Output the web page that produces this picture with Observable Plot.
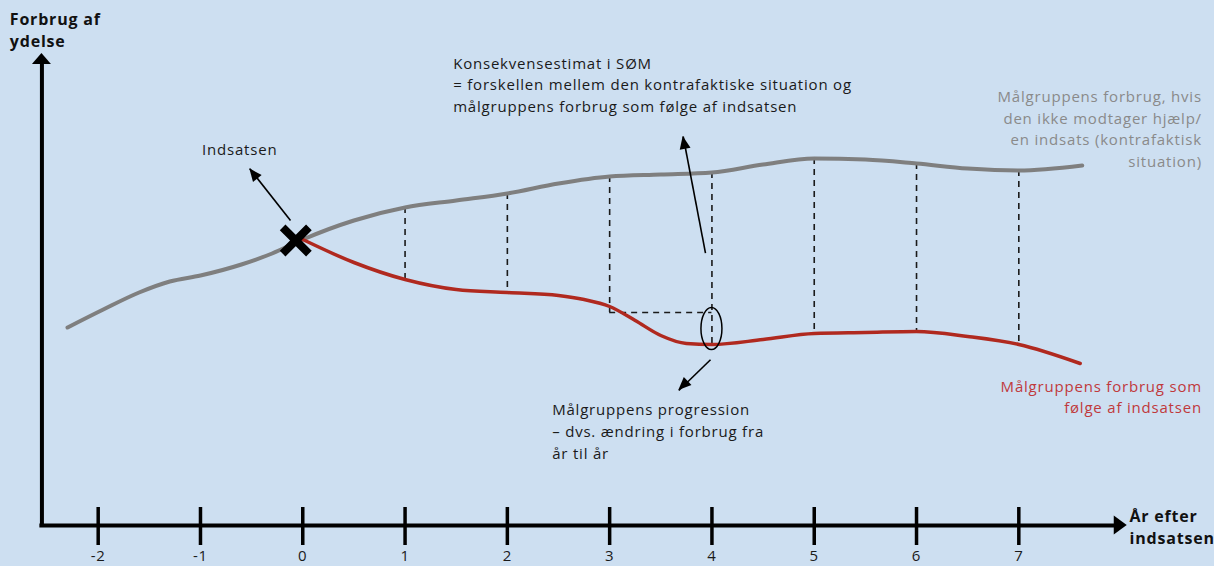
<!DOCTYPE html>
<html><head><meta charset="utf-8">
<script src="https://cdn.jsdelivr.net/npm/d3@7"></script>
<script src="https://cdn.jsdelivr.net/npm/@observablehq/plot@0.6"></script>
<style>
html,body{margin:0;padding:0;background:#cddff1;}
#chart svg{display:block}
#chart svg text{letter-spacing:0.8px}
#chart svg text.bold{letter-spacing:0.7px}
</style>
</head><body><div id="chart"></div>
<script>
// ---- data ----
const years = [-2, -1, 0, 1, 2, 3, 4, 5, 6, 7];
const yearLabels = ["-2", "-1", "0", "1", "2", "3", "4", "5", "6", "7"];

// counterfactual (gray) consumption
const grayX = [-2.30, -1.95, -1.6, -1.3, -1, -0.6, -0.3, 0, 0.5, 1, 1.5, 2, 2.5, 3, 3.5, 4, 4.5, 5, 5.5, 6, 6.5, 7, 7.62];
const grayY = [19.8, 21.6, 23.3, 24.4, 25.0, 26.1, 27.2, 28.6, 30.5, 31.8, 32.5, 33.2, 34.2, 34.9, 35.1, 35.3, 36.1, 36.7, 36.6, 36.2, 35.7, 35.5, 36.0];

// consumption with intervention (red)
const redX = [0, 0.5, 1, 1.5, 2, 2.5, 2.75, 3, 3.25, 3.5, 3.75, 4, 4.5, 5, 5.5, 6, 6.5, 7, 7.6];
const redY = [28.6, 26.3, 24.6, 23.6, 23.3, 23.0, 22.6, 21.9, 20.5, 19.0, 18.2, 18.1, 18.6, 19.2, 19.3, 19.4, 18.9, 18.1, 16.2];

// dashed gaps
const gapYears = [1, 2, 3, 4, 5, 6, 7];
const gapTop = [31.8, 33.2, 34.9, 35.3, 36.7, 36.2, 35.5];
const gapBottom = [24.6, 23.3, 21.3, 18.0, 19.2, 19.3, 18.1];
const levelFrom = 3, levelTo = 4, levelY = 21.3;

// intervention marker
const markerX = 0, markerY = 28.5;
// progression ellipse
const ellipseX = 4, ellipseY = 19.65;

// annotation arrows
const arrowX1 = [-0.12, 3.937, 3.986];
const arrowY1 = [30.5, 27.23, 16.57];
const arrowX2 = [-0.518, 3.719, 3.676];
const arrowY2 = [35.67, 38.9, 13.5];

// axes
const yAxisX = -2.55, xAxisEnd = 8.06, yAxisEnd = 47.2;

// texts
const interventionText = "Indsatsen";
const interventionX = -0.616, interventionY = 37.1;
const estimateText = "Konsekvensestimat i SØM\n= forskellen mellem den kontrafaktiske situation og\nmålgruppens forbrug som følge af indsatsen";
const estimateX = 1.470, estimateY = 41.35;
const progressionText = "Målgruppens progression\n– dvs. ændring i forbrug fra\når til år";
const progressionX = 2.438, progressionY = 6.7;

const grayLabel = "Målgruppens forbrug, hvis\nden ikke modtager hjælp/\nen indsats (kontrafaktisk\nsituation)";
const redLabel = "Målgruppens forbrug som\nfølge af indsatsen";
const seriesLabelX = 8.79;
const grayLabelY = 35.83, redLabelY = 11.23;

const yTitle = "Forbrug af\nydelse";
const xTitle = "År efter\nindsatsen";
const yTitleX = -2.864, yTitleY = 47.9;
const xTitleX = 8.082, xTitleY = -1.8;

// ---- build ----
const FONT = "'Open Sans', sans-serif";
const INK = "#1a1a1a";
const gray = grayX.map((x, i) => ({x, y: grayY[i]}));
const red = redX.map((x, i) => ({x, y: redY[i]}));
const gaps = gapYears.map((x, i) => ({x, y1: gapTop[i], y2: gapBottom[i]}));
const arrows = arrowX1.map((x1, i) => ({x1, y1: arrowY1[i], x2: arrowX2[i], y2: arrowY2[i]}));

function heads(specs) {
  return (index, scales) => {
    const g = d3.create("svg:g");
    for (const s of specs) {
      const x1 = scales.x(s.x1), y1 = scales.y(s.y1), x2 = scales.x(s.x2), y2 = scales.y(s.y2);
      const a = Math.atan2(y2 - y1, x2 - x1);
      const bx = x2 - s.len * Math.cos(a), by = y2 - s.len * Math.sin(a);
      const px = -Math.sin(a) * s.wid / 2, py = Math.cos(a) * s.wid / 2;
      g.append("path")
        .attr("d", `M${x2},${y2}L${bx + px},${by + py}L${bx - px},${by - py}Z`)
        .attr("fill", "#000");
    }
    return g.node();
  };
}

const headSpecs = [
  {x1: yAxisX, y1: 0, x2: yAxisX, y2: yAxisEnd, len: 11, wid: 19},
  {x1: yAxisX, y1: 0, x2: xAxisEnd, y2: 0, len: 13, wid: 19},
  ...arrows.map(d => ({...d, len: 13, wid: 11}))
];

const ellipseMark = (index, scales) => {
  const e = d3.create("svg:ellipse")
    .attr("cx", scales.x(ellipseX)).attr("cy", scales.y(ellipseY))
    .attr("rx", 10.5).attr("ry", 21)
    .attr("fill", "none").attr("stroke", "#000").attr("stroke-width", 1.5);
  return e.node();
};

const txt = (s, x, y, o) => Plot.text([s], {x: () => x, y: () => y, text: d => d, lineAnchor: "bottom", lineHeight: 1.45, fontSize: 15, fill: INK, fontFamily: FONT, ...o});

const chart = Plot.plot({
  width: 1214,
  height: 566,
  marginTop: 0, marginRight: 0, marginBottom: 0, marginLeft: 0,
  x: {domain: [-2.955, 8.913], axis: null},
  y: {domain: [-4.1, 52.5], axis: null},
  style: {background: "#cddff1", fontFamily: FONT, overflow: "visible"},
  marks: [
    // dashed gaps
    Plot.ruleX(gaps, {x: "x", y1: "y1", y2: "y2", stroke: INK, strokeWidth: 1.6, strokeDasharray: "6,5"}),
    Plot.ruleY([levelY], {x1: levelFrom, x2: levelTo, stroke: INK, strokeWidth: 1.6, strokeDasharray: "6,5"}),
    // series
    Plot.line(gray, {x: "x", y: "y", stroke: "#7f7f7f", strokeWidth: 4, curve: "monotone-x"}),
    Plot.line(red, {x: "x", y: "y", stroke: "#b0291f", strokeWidth: 3.5, curve: "monotone-x"}),
    // marker
    Plot.dot([{x: markerX, y: markerY}], {x: "x", y: "y", symbol: "times", r: 12, stroke: "#000", strokeWidth: 8, dx: -7}),
    ellipseMark,
    // axes
    Plot.ruleY([0], {x1: yAxisX - 0.02, x2: xAxisEnd - 0.1, stroke: "#000", strokeWidth: 4}),
    Plot.ruleX([yAxisX], {y1: -0.2, y2: yAxisEnd - 0.8, stroke: "#000", strokeWidth: 4}),
    Plot.ruleX(years, {y1: 1.8, y2: -2.0, stroke: "#000", strokeWidth: 3.5}),
    Plot.text(years, {x: d => d, y: -3.5, text: (d, i) => yearLabels[i], lineAnchor: "bottom", fontSize: 15, fill: INK, fontFamily: FONT}),
    // annotation arrows
    Plot.link(arrows, {x1: "x1", y1: "y1", x2: "x2", y2: "y2", stroke: "#000", strokeWidth: 1.6}),
    heads(headSpecs),
    // notes
    txt(interventionText, interventionX, interventionY, {textAnchor: "middle"}),
    txt(estimateText, estimateX, estimateY, {textAnchor: "start"}),
    txt(progressionText, progressionX, progressionY, {textAnchor: "start"}),
    txt(grayLabel, seriesLabelX, grayLabelY, {textAnchor: "end", fill: "#8a8a8a"}),
    txt(redLabel, seriesLabelX, redLabelY, {textAnchor: "end", fill: "#c0393c", lineHeight: 1.4}),
    txt(yTitle, yTitleX, yTitleY, {textAnchor: "start", lineHeight: 1.32, fontSize: 16, fontWeight: "bold", fill: "#111", className: "bold"}),
    txt(xTitle, xTitleX, xTitleY, {textAnchor: "start", lineHeight: 1.34, fontSize: 16, fontWeight: "bold", fill: "#111", className: "bold"})
  ]
});
document.getElementById("chart").append(chart);
</script>
</body></html>
